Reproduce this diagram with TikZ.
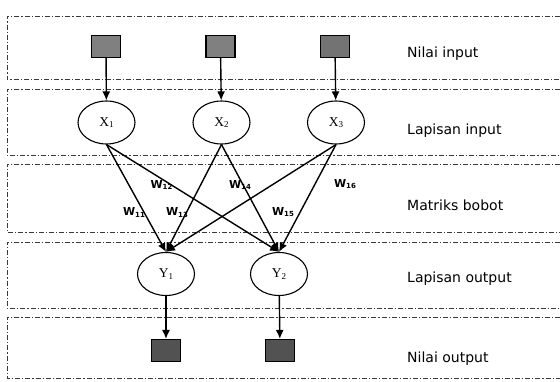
\documentclass[tikz,border=0pt]{standalone}
\usepackage{fontspec}
\setmainfont{DejaVu Sans}
\newfontfamily\nodeserif{Liberation Serif}
\usetikzlibrary{shapes.geometric,arrows.meta}

\newcommand{\lowidx}[1]{\raisebox{-0.3ex}{\fontsize{7}{7}\selectfont #1}}
\newcommand{\serifidx}[1]{\raisebox{-0.25ex}{\fontsize{9}{9}\selectfont #1}}

\begin{document}
\begin{tikzpicture}[x=1pt,y=-1pt]
        % Common styles
        \tikzstyle{band}=[draw=gray!45!black, line width=0.9pt, dash pattern=on 5pt off 2pt on 1.2pt off 2pt]
        \tikzstyle{valbox}=[draw=black, line width=1.1pt, minimum width=29pt, minimum height=22pt, inner sep=0pt]
        \tikzstyle{neuron}=[ellipse, draw=black, line width=1.1pt, minimum width=57pt, minimum height=43pt, inner sep=0pt, font=\nodeserif\fontsize{13.5}{13.5}\selectfont]
        \tikzstyle{link}=[-{Latex[length=9pt,width=8pt]}, line width=1.4pt]
        \tikzstyle{layer}=[anchor=base west, inner sep=0pt, font=\fontsize{14}{16}\selectfont]
        \tikzstyle{weight}=[inner sep=0pt, font=\bfseries\fontsize{11}{11}\selectfont]

        \useasboundingbox (0,0) rectangle (560,381);

        % --- Bands (open on the right) ---
        \foreach \top/\bot in {16.5/79, 89/155, 164/232, 242/308, 317/378}
            \draw[band] (560,\top) -| (7,\bot) -- (560,\bot);

        % --- Nilai input ---
        \node[valbox, fill=black!50] (in1) at (106,46.5) {};
        \node[valbox, fill=black!50] (in2) at (220.5,46.5) {};
        \node[valbox, fill=black!55] (in3) at (335,46.5) {};

        % --- Lapisan input ---
        \node[neuron] (x1) at (106.5,122.5) {X\serifidx{1}};
        \node[neuron] (x2) at (221.5,122.5) {X\serifidx{2}};
        \node[neuron] (x3) at (336,122.5) {X\serifidx{3}};

        % --- Lapisan output ---
        \node[neuron] (y1) at (166,274) {Y\serifidx{1}};
        \node[neuron] (y2) at (279,274) {Y\serifidx{2}};

        % --- Nilai output ---
        \node[valbox, fill=black!68] (out1) at (166,350.5) {};
        \node[valbox, fill=black!68] (out2) at (280,350.5) {};

        % Input arrows
        \foreach \i in {1,2,3}
            \draw[link] (in\i) -- (x\i);

        % Weight matrix
        \foreach \i in {1,2,3}
            \foreach \j in {1,2}
                \draw[link] (x\i.south) -- (y\j.north);

        % Output arrows
        \foreach \j in {1,2}
            \draw[link] (y\j) -- (out\j);

        % Weights
        \node[weight] (w12) at (161.5,185) {W\lowidx{12}};
        \node[weight] (w14) at (240,185) {W\lowidx{14}};
        \node[weight] (w16) at (345,184) {W\lowidx{16}};
        \node[weight] (w11) at (134,212.5) {W\lowidx{11}};
        \node[weight] (w13) at (177,212.5) {W\lowidx{13}};
        \node[weight] (w15) at (283,212) {W\lowidx{15}};

        % Layer names
        \node[layer] (lnilaiin) at (407,57.5) {Nilai input};
        \node[layer] (llapin) at (407,134) {Lapisan input};
        \node[layer] (lbobot) at (407,210) {Matriks bobot};
        \node[layer] (llapout) at (407,282) {Lapisan output};
        \node[layer] (lnilaiout) at (407,362) {Nilai output};

    \end{tikzpicture}
\end{document}
